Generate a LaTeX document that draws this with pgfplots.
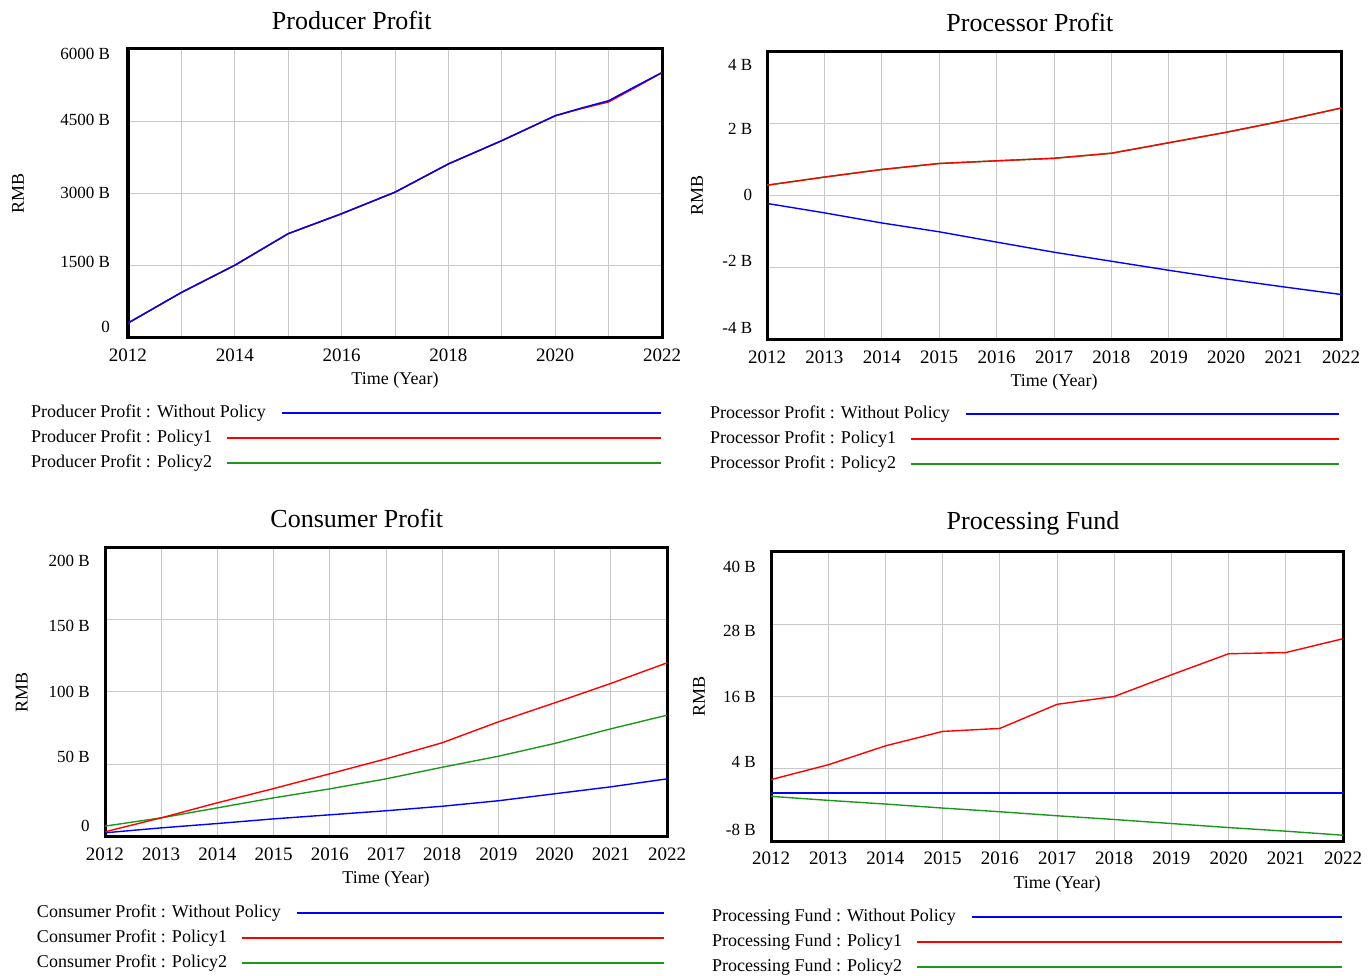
\documentclass[border=0pt]{standalone}
\usepackage{fontspec}
\setmainfont{Liberation Serif}
\usepackage{pgfplots}
\pgfplotsset{compat=1.18}
\definecolor{vblue}{RGB}{0,0,255}
\definecolor{vred}{RGB}{255,0,0}
\definecolor{vgreen}{RGB}{30,150,30}
\definecolor{vgrid}{RGB}{200,200,200}
\newcommand{\yl}[2]{\raisebox{\dimexpr #1pt-2.9pt\relax}[0pt][0pt]{#2}}
\pgfplotsset{
  lg/.style 2 args={legend image code/.code={\draw[##1,line width=1pt,overlay] (#1,0pt) -- (#2,0pt);}},
  vensim/.style={
    scale only axis,
    xmin=2012, xmax=2022,
    xtick={2012,2013,...,2022},
    grid=major,
    major grid style={vgrid, line width=0.5pt},
    axis line style={black, line width=1.5pt},
    major tick length=0pt,
    tick style={draw=none},
    xticklabel style={inner sep=0pt, anchor=north, yshift=-5pt, font=\fontsize{9.5}{10}\selectfont},
    yticklabel style={inner sep=0pt, anchor=east, font=\fontsize{8.5}{10}\selectfont},
    label style={font=\fontsize{9}{10}\selectfont},
    xlabel={Time (Year)},
    ylabel={RMB},
    title style={font=\fontsize{13}{15}\selectfont, anchor=center, yshift=-6pt},
    legend plot pos=right,
    legend cell align=left,
    reverse legend,
    legend style={draw=none, fill=none, inner sep=0pt, outer sep=0pt, row sep=3.8pt, column sep=0pt, font=\fontsize{9}{10}\selectfont, nodes={inner sep=0pt, text height=6.5pt, text depth=2pt}},
    every axis plot/.append style={line width=0.7pt},
    /pgf/number format/assume math mode=true,
  }
}
\begin{document}
\begin{tikzpicture}
\path[use as bounding box] (0,0) rectangle (685.5pt,487.5pt);
% ---------------- Producer Profit
\begin{axis}[vensim,
  at={(64pt,318.5pt)}, anchor=south west,
  width=267pt, height=144.5pt,
  ymin=0, ymax=6000, ytick={0,1500,3000,4500,6000},
  xticklabels={2012,,2014,,2016,,2018,,2020,,2022},
  yticklabels={\yl{5.5}{0},\yl{2}{1500 B},\yl{0.5}{3000 B},\yl{0.8}{4500 B},\yl{-2.5}{6000 B}},
  yticklabel style={xshift=-8.8pt},
  title={Producer Profit},
  title style={at={(axis description cs:0.419,1.100)}},
  xlabel style={at={(axis description cs:0.5,-0.145)}, anchor=center},
  ylabel style={at={(axis description cs:-0.206,0.5)}, anchor=center},
  legend style={at={(axis description cs:-0.1816,-0.2316)}, anchor=north west},
]
\addplot[vgreen, lg={-19.25pt}{197.5pt}] coordinates {
(2012,310) (2013,945) (2014,1510) (2015,2166) (2016,2580) (2017,3027) (2018,3614) (2019,4097) (2020,4614) (2020.5,4775) (2021,4924) (2021.5,5220) (2022,5510)};
\addplot[vred, lg={-19.25pt}{197.5pt}] coordinates {
(2012,310) (2013,945) (2014,1510) (2015,2166) (2016,2580) (2017,3027) (2018,3614) (2019,4097) (2020,4614) (2020.5,4765) (2021,4900) (2021.5,5200) (2022,5510)};
\addplot[vblue, lg={8pt}{197.5pt}] coordinates {
(2012,310) (2013,945) (2014,1510) (2015,2166) (2016,2580) (2017,3027) (2018,3614) (2019,4097) (2020,4614) (2020.5,4775) (2021,4924) (2021.5,5220) (2022,5510)};
\legend{Producer Profit : Policy2, Producer Profit : Policy1, Producer Profit : Without Policy}
\end{axis}
% ---------------- Processor Profit
\begin{axis}[vensim,
  at={(383.5pt,317.5pt)}, anchor=south west,
  width=287pt, height=144.5pt,
  ymin=-4, ymax=4, ytick={-4,-2,0,2,4},
  xticklabels={2012,2013,2014,2015,2016,2017,2018,2019,2020,2021,2022},
  yticklabels={\yl{6.2}{-4 B},\yl{3.3}{-2 B},\yl{0.5}{0},\yl{-2.8}{2 B},\yl{-7}{4 B}},
  yticklabel style={xshift=-7.2pt},
  title={Processor Profit},
  title style={at={(axis description cs:0.458,1.100)}},
  xlabel style={at={(axis description cs:0.5,-0.145)}, anchor=center},
  ylabel style={at={(axis description cs:-0.122,0.5)}, anchor=center},
  legend style={at={(axis description cs:-0.0993,-0.2282)}, anchor=north west},
]
\addplot[vgreen, lg={-19.25pt}{194.5pt}] coordinates {
(2012,0.285) (2013,0.51) (2014,0.72) (2015,0.886) (2016,0.96) (2017,1.03) (2018,1.17) (2019,1.46) (2020,1.75) (2021,2.07) (2022,2.42)};
\addplot[vred, lg={-19.25pt}{194.5pt}] coordinates {
(2012,0.285) (2013,0.51) (2014,0.72) (2015,0.886) (2016,0.96) (2017,1.03) (2018,1.17) (2019,1.46) (2020,1.75) (2021,2.07) (2022,2.42)};
\addplot[vblue, lg={8pt}{194.5pt}] coordinates {
(2012,-0.22) (2013,-0.48) (2014,-0.76) (2015,-1.005) (2016,-1.29) (2017,-1.57) (2018,-1.82) (2019,-2.07) (2020,-2.31) (2021,-2.53) (2022,-2.74)};
\legend{Processor Profit : Policy2, Processor Profit : Policy1, Processor Profit : Without Policy}
\end{axis}
% ---------------- Consumer Profit
\begin{axis}[vensim,
  at={(52.5pt,69pt)}, anchor=south west,
  width=281pt, height=145pt,
  ymin=0, ymax=200, ytick={0,50,100,150,200},
  xticklabels={2012,2013,2014,2015,2016,2017,2018,2019,2020,2021,2022},
  yticklabels={\yl{5.8}{0},\yl{3.7}{50 B},\yl{0.3}{100 B},\yl{-3}{150 B},\yl{-6.7}{200 B}},
  yticklabel style={xshift=-7.5pt},
  title={Consumer Profit},
  title style={at={(axis description cs:0.448,1.100)}},
  xlabel style={at={(axis description cs:0.5,-0.145)}, anchor=center},
  ylabel style={at={(axis description cs:-0.148,0.5)}, anchor=center},
  legend style={at={(axis description cs:-0.121,-0.2343)}, anchor=north west},
]
\addplot[vgreen, lg={-19.25pt}{191.5pt}] coordinates {
(2012,7.5) (2013,13.2) (2014,20.1) (2015,27.0) (2016,33.2) (2017,40.1) (2018,48.1) (2019,55.7) (2020,64.5) (2021,74.6) (2022,84.0)};
\addplot[vred, lg={-19.25pt}{191.5pt}] coordinates {
(2012,3.6) (2013,13.2) (2014,23.6) (2015,33.4) (2016,43.6) (2017,53.9) (2018,65.0) (2019,79.4) (2020,92.5) (2021,105.9) (2022,120.1)};
\addplot[vblue, lg={8pt}{191.5pt}] coordinates {
(2012,2.9) (2013,6.3) (2014,9.3) (2015,12.5) (2016,15.3) (2017,18.1) (2018,21.2) (2019,25.0) (2020,29.8) (2021,34.6) (2022,40.1)};
\legend{Consumer Profit : Policy2, Consumer Profit : Policy1, Consumer Profit : Without Policy}
\end{axis}
% ---------------- Processing Fund
\begin{axis}[vensim,
  at={(385.5pt,67pt)}, anchor=south west,
  width=286pt, height=144.5pt,
  ymin=-8, ymax=40, ytick={-8,4,16,28,40},
  xticklabels={2012,2013,2014,2015,2016,2017,2018,2019,2020,2021,2022},
  yticklabels={\yl{5.5}{-8 B},\yl{3.3}{4 B},\yl{0}{16 B},\yl{-3.3}{28 B},\yl{-7.2}{40 B}},
  yticklabel style={xshift=-7.5pt},
  title={Processing Fund},
  title style={at={(axis description cs:0.458,1.100)}},
  xlabel style={at={(axis description cs:0.5,-0.149)}, anchor=center},
  ylabel style={at={(axis description cs:-0.126,0.5)}, anchor=center},
  legend style={at={(axis description cs:-0.1031,-0.2351)}, anchor=north west},
]
\addplot[vgreen, lg={-19.25pt}{193pt}] coordinates {
(2012,-0.58) (2013,-1.25) (2014,-1.86) (2015,-2.53) (2016,-3.14) (2017,-3.81) (2018,-4.43) (2019,-5.10) (2020,-5.77) (2021,-6.37) (2022,-7.04)};
\addplot[vred, lg={-19.25pt}{193pt}] coordinates {
(2012,2.2) (2013,4.66) (2014,7.8) (2015,10.2) (2016,10.7) (2017,14.7) (2018,16.0) (2019,19.6) (2020,23.1) (2021,23.3) (2022,25.6)};
\addplot[vblue, lg={8pt}{193pt}] coordinates {
(2012,0) (2013,0) (2014,0) (2015,0) (2016,0) (2017,0) (2018,0) (2019,0) (2020,0) (2021,0) (2022,0)};
\legend{Processing Fund : Policy2, Processing Fund : Policy1, Processing Fund : Without Policy}
\end{axis}
\end{tikzpicture}
\end{document}
